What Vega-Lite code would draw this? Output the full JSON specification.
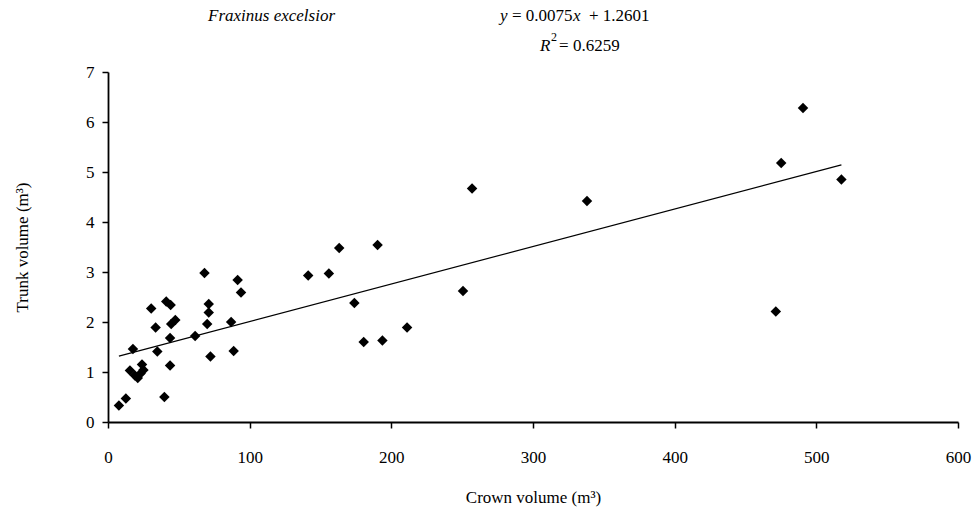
{
  "$schema": "https://vega.github.io/schema/vega-lite/v6.json",
  "width": 850,
  "height": 350,
  "autosize": {"type": "none"},
  "padding": {"left": 108, "top": 72, "right": 18, "bottom": 93},
  "background": "white",
  "config": {
    "view": {"stroke": null},
    "font": "Liberation Serif, DejaVu Serif, serif",
    "text": {"font": "Liberation Serif, DejaVu Serif, serif"},
    "axis": {
      "grid": false,
      "domainColor": "black",
      "tickColor": "black",
      "domainWidth": 1.8,
      "tickWidth": 1.5,
      "tickSize": 6,
      "labelFont": "Liberation Serif, DejaVu Serif, serif",
      "labelFontSize": 17,
      "labelColor": "black",
      "labelFlush": false,
      "labelOverlap": false,
      "titleFont": "Liberation Serif, DejaVu Serif, serif",
      "titleFontSize": 17,
      "titleFontWeight": "normal",
      "titleColor": "black"
    }
  },
  "datasets": {
    "points": [
      {"crown": 7.7, "trunk": 0.33},
      {"crown": 12.6, "trunk": 0.47},
      {"crown": 15.5, "trunk": 1.03},
      {"crown": 17.6, "trunk": 1.46},
      {"crown": 19.0, "trunk": 0.93},
      {"crown": 21.0, "trunk": 0.88},
      {"crown": 23.0, "trunk": 0.97},
      {"crown": 24.0, "trunk": 1.15},
      {"crown": 25.0, "trunk": 1.04},
      {"crown": 30.5, "trunk": 2.27},
      {"crown": 33.6, "trunk": 1.89},
      {"crown": 34.8, "trunk": 1.41},
      {"crown": 39.8, "trunk": 0.5},
      {"crown": 41.1, "trunk": 2.41},
      {"crown": 43.8, "trunk": 1.68},
      {"crown": 43.8, "trunk": 1.13},
      {"crown": 44.2, "trunk": 2.34},
      {"crown": 44.6, "trunk": 1.96},
      {"crown": 47.5, "trunk": 2.04},
      {"crown": 61.5, "trunk": 1.72},
      {"crown": 68.1, "trunk": 2.98},
      {"crown": 70.0, "trunk": 1.96},
      {"crown": 71.1, "trunk": 2.36},
      {"crown": 71.1, "trunk": 2.19},
      {"crown": 72.3, "trunk": 1.31},
      {"crown": 86.9, "trunk": 2.0},
      {"crown": 88.7, "trunk": 1.42},
      {"crown": 91.5, "trunk": 2.84},
      {"crown": 93.9, "trunk": 2.59},
      {"crown": 141.3, "trunk": 2.93},
      {"crown": 155.9, "trunk": 2.97},
      {"crown": 163.2, "trunk": 3.48},
      {"crown": 173.9, "trunk": 2.38},
      {"crown": 180.5, "trunk": 1.6},
      {"crown": 190.3, "trunk": 3.54},
      {"crown": 193.7, "trunk": 1.63},
      {"crown": 211.1, "trunk": 1.89},
      {"crown": 250.6, "trunk": 2.62},
      {"crown": 257.0, "trunk": 4.67},
      {"crown": 338.1, "trunk": 4.42},
      {"crown": 471.4, "trunk": 2.21},
      {"crown": 475.2, "trunk": 5.18},
      {"crown": 490.6, "trunk": 6.28},
      {"crown": 517.7, "trunk": 4.85}
    ],
    "trend": [
      {"crown": 7.7, "trunk": 1.318},
      {"crown": 517.7, "trunk": 5.143}
    ],
    "notes": [
      {"text": "Fraxinus excelsior", "crown": 70.6, "trunk": 8.13, "italic": true, "size": 17},
      {"text": "y", "crown": 276.7, "trunk": 8.13, "italic": true, "size": 17},
      {"text": "= 0.0075", "crown": 285.2, "trunk": 8.13, "italic": false, "size": 17},
      {"text": "x", "crown": 328.2, "trunk": 8.13, "italic": true, "size": 17},
      {"text": "+ 1.2601", "crown": 339.5, "trunk": 8.13, "italic": false, "size": 17},
      {"text": "R", "crown": 304.9, "trunk": 7.53, "italic": true, "size": 17},
      {"text": "2", "crown": 312.7, "trunk": 7.7, "italic": false, "size": 12},
      {"text": "= 0.6259", "crown": 318.4, "trunk": 7.53, "italic": false, "size": 17}
    ]
  },
  "layer": [
    {
      "data": {"name": "trend"},
      "mark": {"type": "line", "color": "black", "strokeWidth": 1.2},
      "encoding": {
        "x": {"field": "crown", "type": "quantitative"},
        "y": {"field": "trunk", "type": "quantitative"}
      }
    },
    {
      "data": {"name": "points"},
      "mark": {"type": "point", "shape": "diamond", "filled": true, "color": "black", "size": 110, "opacity": 1},
      "encoding": {
        "x": {
          "field": "crown", "type": "quantitative",
          "scale": {"domain": [0, 600], "nice": false},
          "axis": {"values": [0, 100, 200, 300, 400, 500, 600], "title": "Crown volume (m³)", "titlePadding": 24, "labelPadding": 21}
        },
        "y": {
          "field": "trunk", "type": "quantitative",
          "scale": {"domain": [0, 7], "nice": false},
          "axis": {"values": [0, 1, 2, 3, 4, 5, 6, 7], "title": "Trunk volume (m³)", "titlePadding": 54, "labelPadding": 8}
        }
      }
    },
    {
      "data": {"name": "notes"},
      "transform": [{"filter": "datum.italic"}],
      "mark": {"type": "text", "align": "left", "baseline": "middle", "fontStyle": "italic", "font": "Liberation Serif, DejaVu Serif, serif", "color": "black", "clip": false},
      "encoding": {
        "x": {"field": "crown", "type": "quantitative"},
        "y": {"field": "trunk", "type": "quantitative"},
        "text": {"field": "text"},
        "size": {"field": "size", "type": "quantitative", "scale": null, "legend": null}
      }
    },
    {
      "data": {"name": "notes"},
      "transform": [{"filter": "!datum.italic"}],
      "mark": {"type": "text", "align": "left", "baseline": "middle", "font": "Liberation Serif, DejaVu Serif, serif", "color": "black", "clip": false},
      "encoding": {
        "x": {"field": "crown", "type": "quantitative"},
        "y": {"field": "trunk", "type": "quantitative"},
        "text": {"field": "text"},
        "size": {"field": "size", "type": "quantitative", "scale": null, "legend": null}
      }
    }
  ]
}
